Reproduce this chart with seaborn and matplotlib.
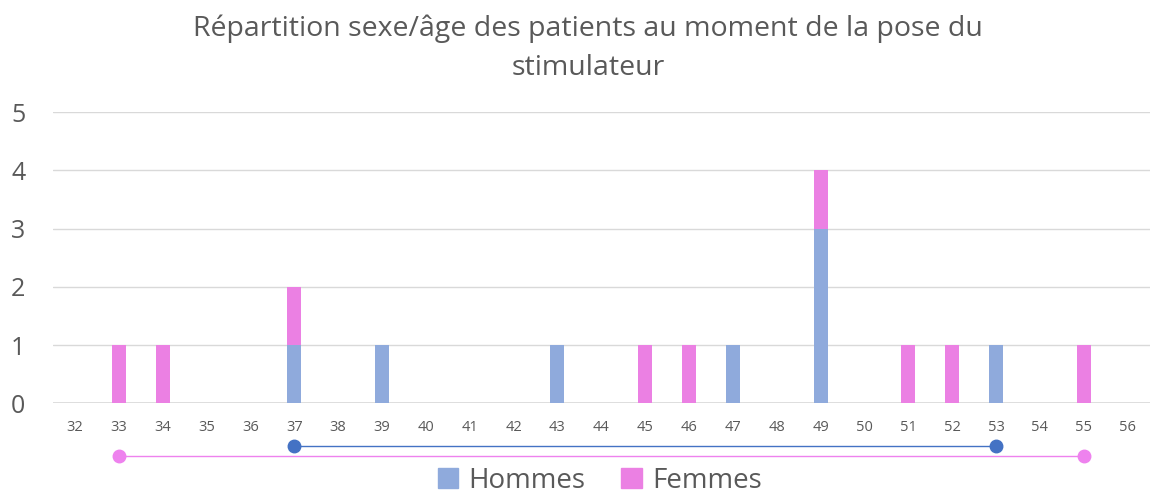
import numpy as np
import pandas as pd
import seaborn as sns
import matplotlib.pyplot as plt
from matplotlib.patches import Patch

# ages on the x axis and counts per sex
ages = list(range(32, 57))
hommes = [0, 0, 0, 0, 0, 1, 0, 1, 0, 0, 0, 1, 0, 0, 0, 1, 0, 3, 0, 0, 0, 1, 0, 0, 0]
femmes = [0, 1, 1, 0, 0, 1, 0, 0, 0, 0, 0, 0, 0, 1, 1, 0, 0, 1, 0, 1, 1, 0, 0, 1, 0]
yticks = [0, 1, 2, 3, 4, 5]

col_h = "#8FAADC"
col_f = "#EB80E3"
line_h = "#4472C4"
line_f = "#EE82EE"

sns.set_style("white")
plt.rcParams['font.family'] = ['Open Sans', 'DejaVu Sans']

df = pd.DataFrame({"age": [str(a) for a in ages], "Hommes": hommes, "Femmes": femmes})
df["total"] = df["Hommes"] + df["Femmes"]
order = df["age"].tolist()

fig = plt.figure(figsize=(11.53, 4.99), dpi=100)
ax = fig.add_axes([0.046, 0.192, 0.951, 0.583])

# stacked bars: total in pink, men drawn on top in blue
sns.barplot(data=df, x="age", y="total", order=order, color=col_f, width=0.32,
            saturation=1, ax=ax, zorder=3, linewidth=0)
sns.barplot(data=df, x="age", y="Hommes", order=order, color=col_h, width=0.32,
            saturation=1, ax=ax, zorder=4, linewidth=0)

ax.set_xlim(-0.5, len(ages) - 0.5)
ax.set_ylim(0, 5)
ax.set_yticks(yticks)
ax.grid(axis="y", color="#D9D9D9", linewidth=1, zorder=0)
ax.set_axisbelow(True)
for s in ax.spines.values():
    s.set_visible(False)
ax.axhline(0, color="#D9D9D9", linewidth=1.2, zorder=2)
ax.tick_params(axis="y", labelsize=18, labelcolor="#595959", length=0, pad=20)
ax.tick_params(axis="x", labelsize=10.5, labelcolor="#595959", length=0, pad=12)
ax.set_xlabel("")
ax.set_ylabel("")
fig.text(0.51, 0.903, "Répartition sexe/âge des patients au moment de la pose du\nstimulateur",
         fontsize=20.5, color="#595959", ha="center", va="center", linespacing=1.5)

# age range lines below the axis
ax2 = fig.add_axes([0.046, 0.068, 0.951, 0.056])
ax2.set_xlim(-0.5, len(ages) - 0.5)
ax2.set_ylim(-1, 2)
ax2.axis("off")
age_arr = np.array(ages)
h_ages = age_arr[np.array(hommes) > 0]
f_ages = age_arr[np.array(femmes) > 0]
for rng, yv, c in [(f_ages, 0, line_f), (h_ages, 1, line_h)]:
    xs = [rng.min() - ages[0], rng.max() - ages[0]]
    ax2.plot(xs, [yv, yv], color=c, linewidth=1, marker="o", markersize=9,
             clip_on=False)

handles = [Patch(color=col_h, label="Hommes"), Patch(color=col_f, label="Femmes")]
leg = fig.legend(handles=handles, loc="lower center", bbox_to_anchor=(0.52, -0.042),
                 ncol=2, frameon=False, fontsize=20, handlelength=0.75,
                 handleheight=0.75, handletextpad=0.35, columnspacing=1.3)
for t in leg.get_texts():
    t.set_color("#595959")

fig.savefig("out.png", dpi=100)
